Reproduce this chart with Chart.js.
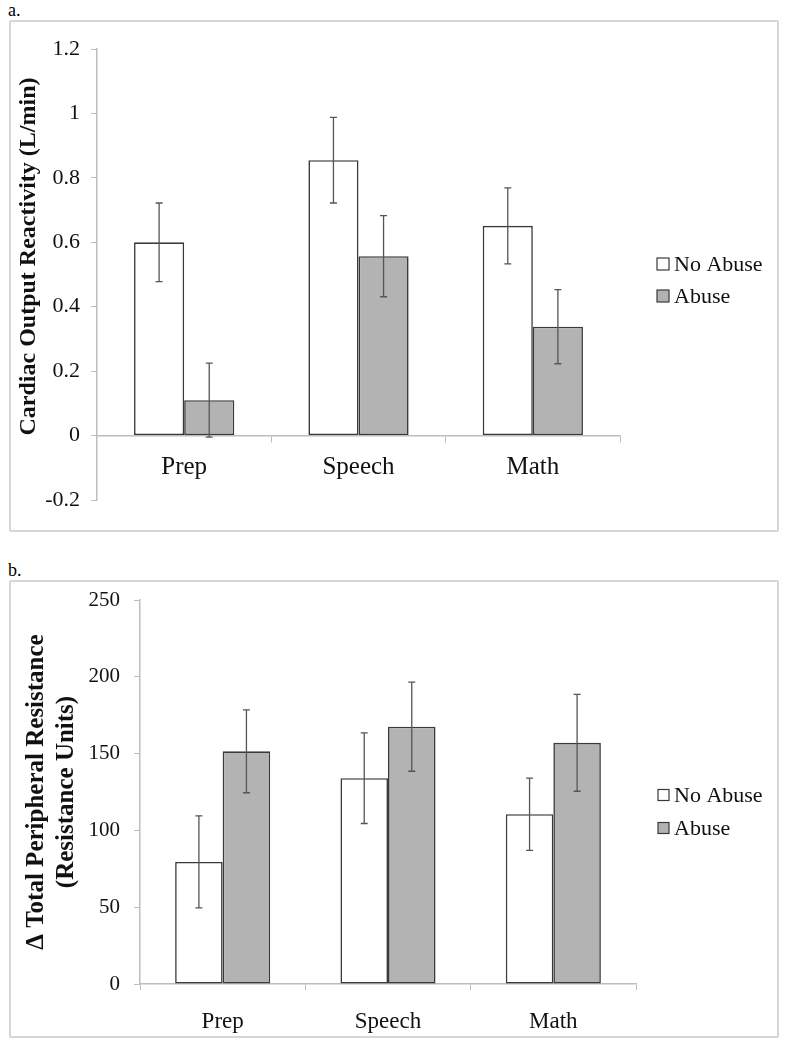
<!DOCTYPE html>
<html><head><meta charset="utf-8">
<script src="https://cdn.jsdelivr.net/npm/chart.js@4"></script>
<style>
body{margin:0;background:#fff;width:787px;height:1048px;position:relative;overflow:hidden;font-family:"Liberation Serif",serif;}
.lbl{position:absolute;left:8px;font-size:18px;color:#000;line-height:20px;}
.box{position:absolute;left:9px;width:766px;border:2px solid #d6d6d6;border-radius:2px;}
#boxA{top:20px;height:508px;}
#boxB{top:580px;height:454px;}
canvas{display:block}
</style></head><body>
<div class="lbl" style="top:0px">a.</div>
<div class="box" id="boxA"><canvas id="cA" width="766" height="508" style="width:766px;height:508px"></canvas></div>
<div class="lbl" style="top:560px">b.</div>
<div class="box" id="boxB"><canvas id="cB" width="766" height="454" style="width:766px;height:454px"></canvas></div>
<script>
// ---------- data ----------
const categories = ['Prep', 'Speech', 'Math'];
const seriesNames = ['No Abuse', 'Abuse'];

// Chart a: Cardiac Output Reactivity (L/min)
const coNoAbuse = [0.60, 0.855, 0.651];
const coAbuse = [0.11, 0.557, 0.338];
const coNoAbuseErr = [0.122, 0.133, 0.118];
const coAbuseErr = [0.115, 0.126, 0.115];
const coTicks = [-0.2, 0, 0.2, 0.4, 0.6, 0.8, 1, 1.2];

// Chart b: Total Peripheral Resistance
const tprNoAbuse = [79.5, 134, 110.5];
const tprAbuse = [151.5, 167.5, 157];
const tprNoAbuseErr = [30, 29.5, 23.5];
const tprAbuseErr = [27, 29, 31.5];
const tprTicks = [0, 50, 100, 150, 200, 250];

// ---------- styling ----------
const SERIF = '"Liberation Serif", "Times New Roman", serif';
const AXIS = '#bdbdbd';
const EDGE = '#3a3a3a';
const GREY = '#b3b3b3';

const errorBars = {
  id: 'errorBars',
  afterDatasetsDraw(chart, args, opts) {
    const ctx = chart.ctx, ys = chart.scales.y;
    chart.data.datasets.forEach((ds, di) => {
      const meta = chart.getDatasetMeta(di);
      meta.data.forEach((bar, i) => {
        const v = ds.data[i], e = ds.err[i];
        const yt = ys.getPixelForValue(v + e), yb = ys.getPixelForValue(v - e);
        const x = bar.x, c = opts.cap;
        ctx.save();
        ctx.strokeStyle = '#555555';
        ctx.lineWidth = 1.3;
        ctx.beginPath();
        ctx.moveTo(x, yt); ctx.lineTo(x, yb);
        ctx.moveTo(x - c, yt); ctx.lineTo(x + c, yt);
        ctx.moveTo(x - c, yb); ctx.lineTo(x + c, yb);
        ctx.stroke();
        ctx.restore();
      });
    });
  }
};

const customLegend = {
  id: 'customLegend',
  afterDraw(chart, args, o) {
    const ctx = chart.ctx;
    chart.data.datasets.forEach((ds, i) => {
      const y = o.y + i * o.gap;
      ctx.save();
      ctx.fillStyle = ds.backgroundColor;
      ctx.strokeStyle = EDGE;
      ctx.lineWidth = 1.2;
      ctx.fillRect(o.x, y - o.size / 2, o.size, o.size);
      ctx.strokeRect(o.x, y - o.size / 2, o.size, o.size);
      ctx.fillStyle = '#111';
      ctx.font = o.font;
      ctx.textBaseline = 'middle';
      ctx.textAlign = 'left';
      ctx.fillText(ds.label, o.x + o.size + 5, y + 1);
      ctx.restore();
    });
  }
};

function makeDatasets(na, ab, naErr, abErr) {
  return [
    { label: seriesNames[0], data: na, err: naErr, backgroundColor: '#ffffff', borderColor: EDGE, borderWidth: 1.6, borderSkipped: false },
    { label: seriesNames[1], data: ab, err: abErr, backgroundColor: GREY, borderColor: EDGE, borderWidth: 1.6, borderSkipped: false }
  ];
}

// ---------- Chart a ----------
new Chart(document.getElementById('cA'), {
  type: 'bar',
  data: { labels: categories, datasets: makeDatasets(coNoAbuse, coAbuse, coNoAbuseErr, coAbuseErr) },
  plugins: [errorBars, customLegend],
  options: {
    responsive: false, animation: false,
    layout: { padding: { top: 27, bottom: 30, left: 0, right: 157 } },
    datasets: { bar: { categoryPercentage: 0.575, barPercentage: 1 } },
    plugins: {
      legend: { display: false }, tooltip: { enabled: false },
      errorBars: { cap: 3.5 },
      customLegend: { x: 646, y: 242, gap: 32, size: 12, font: '22px ' + SERIF }
    },
    scales: {
      x: {
        position: { y: 0 },
        grid: { display: true, drawOnChartArea: false, drawTicks: true, tickLength: 6, color: AXIS, offset: true },
        border: { display: true, color: AXIS, width: 1.5 },
        ticks: { font: { family: SERIF, size: 25 }, color: '#111', padding: 11 }
      },
      y: {
        min: -0.2, max: 1.2,
        afterBuildTicks: s => { s.ticks = coTicks.map(v => ({ value: v })); },
        afterFit: s => { s.width = 86; s.paddingTop = 0; s.paddingBottom = 0; },
        grid: { display: true, drawOnChartArea: false, drawTicks: true, tickLength: 6, color: AXIS },
        border: { display: true, color: AXIS, width: 1.5 },
        ticks: { font: { family: SERIF, size: 22 }, color: '#111', padding: 11,
          callback: v => String(Math.round(v * 10) / 10) },
        title: { display: true, text: '      Cardiac Output Reactivity (L/min)', color: '#111',
          font: { family: SERIF, size: 24, weight: 'bold', lineHeight: 1.2 }, padding: { top: 3, bottom: 0 } }
      }
    }
  }
});

// ---------- Chart b ----------
new Chart(document.getElementById('cB'), {
  type: 'bar',
  data: { labels: categories, datasets: makeDatasets(tprNoAbuse, tprAbuse, tprNoAbuseErr, tprAbuseErr) },
  plugins: [errorBars, customLegend],
  options: {
    responsive: false, animation: false,
    layout: { padding: { top: 18, bottom: 0, left: 0, right: 141 } },
    datasets: { bar: { categoryPercentage: 0.575, barPercentage: 1 } },
    plugins: {
      legend: { display: false }, tooltip: { enabled: false },
      errorBars: { cap: 3.5 },
      customLegend: { x: 647, y: 213, gap: 33, size: 11, font: '22px ' + SERIF }
    },
    scales: {
      x: {
        afterFit: s => { s.height = 52; },
        grid: { display: true, drawOnChartArea: false, drawTicks: true, tickLength: 6, color: AXIS, offset: true },
        border: { display: true, color: AXIS, width: 1.5 },
        ticks: { font: { family: SERIF, size: 23 }, color: '#111', padding: 18 }
      },
      y: {
        min: 0, max: 250,
        afterBuildTicks: s => { s.ticks = tprTicks.map(v => ({ value: v })); },
        afterFit: s => { s.width = 129; s.paddingTop = 0; s.paddingBottom = 0; },
        grid: { display: true, drawOnChartArea: false, drawTicks: true, tickLength: 6, color: AXIS },
        border: { display: true, color: AXIS, width: 1.5 },
        ticks: { font: { family: SERIF, size: 21 }, color: '#111', padding: 14 },
        title: { display: true, text: ['\u0394 Total Peripheral Resistance', '(Resistance Units)'], color: '#111',
          font: { family: SERIF, size: 25, weight: 'bold', lineHeight: 1.2 }, padding: { top: 11, bottom: 0 } }
      }
    }
  }
});
</script>
</body></html>
